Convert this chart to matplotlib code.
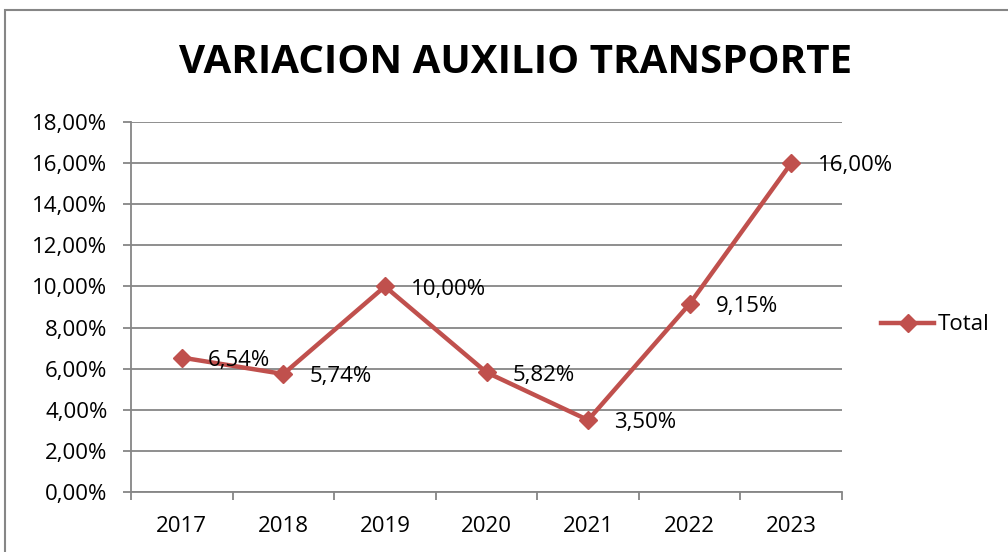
import matplotlib
matplotlib.use('Agg')
import matplotlib.pyplot as plt
from matplotlib.patches import Rectangle

# data
anios = ['2017', '2018', '2019', '2020', '2021', '2022', '2023']
variacion = [6.54, 5.74, 10.00, 5.82, 3.50, 9.15, 16.00]

rojo = '#C0504D'
gris = '#868686'

plt.rcParams['font.family'] = ['Open Sans', 'DejaVu Sans']

fig = plt.figure(figsize=(10.08, 5.52), dpi=100)
ax = fig.add_axes([131 / 1008, 1 - 492 / 552, 711 / 1008, 370 / 552])

# borde del grafico (solo arriba e izquierda se ven)
fig.patches.append(Rectangle((5 / 1008, -0.1), 1.2, 1 - 9.5 / 552 + 0.1,
                             transform=fig.transFigure, fill=False,
                             edgecolor=gris, linewidth=1.5))

x = list(range(len(anios)))
ax.plot(x, variacion, color=rojo, linewidth=3.2, marker='D', markersize=9,
        markerfacecolor=rojo, markeredgecolor=rojo, label='Total', zorder=3)

for xi, v in zip(x, variacion):
    ax.annotate(f'{v:.2f}%'.replace('.', ','), (xi, v), xytext=(19, -2),
                textcoords='offset points', va='center', ha='left',
                fontsize=16, zorder=4)

ax.set_xlim(-0.5, len(anios) - 0.5)
ax.set_ylim(0, 18)
ax.set_yticks(range(0, 19, 2))
ax.set_yticklabels([f'{t:.2f}%'.replace('.', ',') for t in range(0, 19, 2)])
ax.set_xticks(x)
ax.set_xticklabels(anios)
ax.set_xticks([i - 0.5 for i in range(len(anios) + 1)], minor=True)

ax.tick_params(axis='x', which='major', length=0, pad=17, labelsize=16)
ax.tick_params(axis='x', which='minor', length=6, color=gris, width=1.3)
ax.tick_params(axis='y', length=6, color=gris, width=1.3, labelsize=16, pad=11)

ax.grid(axis='y', color=gris, linewidth=1.3)
ax.set_axisbelow(True)
for s in ['top', 'right']:
    ax.spines[s].set_visible(False)
for s in ['left', 'bottom']:
    ax.spines[s].set_color(gris)
    ax.spines[s].set_linewidth(1.3)

fig.text(516 / 1008, 1 - 62 / 552, 'VARIACION AUXILIO TRANSPORTE',
         ha='center', va='center', fontsize=29, fontweight='bold')

ax.legend(loc='center left', bbox_to_anchor=(872 / 1008, 1 - 325 / 552),
          bbox_transform=fig.transFigure, frameon=False, fontsize=16,
          handlelength=2.4, handletextpad=0.15, borderaxespad=0)

fig.savefig('out.png', dpi=100)
